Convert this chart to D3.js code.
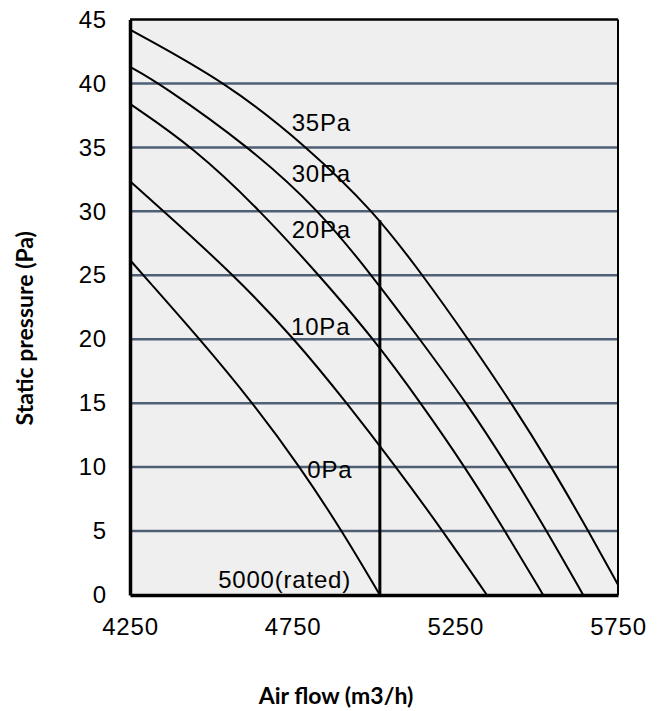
<!DOCTYPE html>
<html>
<head>
<meta charset="utf-8">
<script src="https://cdn.jsdelivr.net/npm/d3@7/dist/d3.min.js"></script>
<style>
  html, body { margin: 0; padding: 0; background: #ffffff; }
  svg { display: block; }
</style>
</head>
<body>
<svg id="chart" width="659" height="711"></svg>
<script>
// ---- Data ----
const xTicks = [4250, 4750, 5250, 5750];
const yTicks = [0, 5, 10, 15, 20, 25, 30, 35, 40, 45];

// Fan curves: [air flow (m3/h), static pressure (Pa)]
const curve35 = [[4250, 44.2], [4552, 40], [4796, 35], [5000, 30], [5150, 25], [5290, 20], [5423, 15], [5546, 10], [5659, 5], [5750, 0.8]];
const curve30 = [[4250, 41.3], [4342, 40], [4619, 35], [4834, 30], [4993, 25], [5141, 20], [5285, 15], [5413, 10], [5531, 5], [5643, 0]];
const curve20 = [[4250, 38.4], [4445, 35], [4653, 30], [4831, 25], [5000, 20], [5144, 15], [5280, 10], [5403, 5], [5520, 0]];
const curve10 = [[4250, 32.35], [4354, 30], [4570, 25], [4757, 20], [4917, 15], [5068, 10], [5212, 5], [5347, 0]];
const curve0  = [[4250, 26.2], [4291, 25], [4465, 20], [4628, 15], [4773, 10], [4902, 5], [5018, 0]];
const curves = [curve35, curve30, curve20, curve10, curve0];

// Rated flow marker: flow position, from pressure, to pressure
const ratedFlow = 5018;
const ratedRange = [0, 29.3];

// Curve labels: text, anchor flow, anchor pressure (data coordinates)
const labelTexts = ["35Pa", "30Pa", "20Pa", "10Pa", "0Pa", "5000(rated)"];
const labelFlows = [4747, 4747, 4747, 4745, 4795, 4521];
const labelPressures = [36.3, 32.3, 27.95, 20.3, 9.15, 0.55];

const xTitle = "Air flow (m3/h)";
const yTitle = "Static pressure (Pa)";

// ---- Layout ----
const svg = d3.select("#chart");
const pLeft = 130, pRight = 618, pTop = 19.5, pBottom = 595;

const x = d3.scaleLinear().domain([4250, 5750]).range([pLeft, pRight]);
const y = d3.scaleLinear().domain([0, 45]).range([pBottom, pTop]);

// Plot background
svg.append("rect")
  .attr("x", pLeft).attr("y", pTop)
  .attr("width", pRight - pLeft).attr("height", pBottom - pTop)
  .attr("fill", "#efefef");

// Gridlines
svg.append("g").selectAll("line")
  .data(yTicks.filter(d => d > 0 && d < 45))
  .join("line")
  .attr("x1", pLeft).attr("x2", pRight)
  .attr("y1", d => y(d)).attr("y2", d => y(d))
  .attr("stroke", "#4f5f76")
  .attr("stroke-width", 2.5);

// Curves (smoothed through the read points)
const line = d3.line()
  .x(d => x(d[0])).y(d => y(d[1]))
  .curve(d3.curveBasis);

svg.append("g").selectAll("path")
  .data(curves)
  .join("path")
  .attr("d", line)
  .attr("fill", "none")
  .attr("stroke", "#000")
  .attr("stroke-width", 2);

// Rated line
svg.append("line")
  .attr("x1", x(ratedFlow)).attr("x2", x(ratedFlow))
  .attr("y1", y(ratedRange[0])).attr("y2", y(ratedRange[1]))
  .attr("stroke", "#000").attr("stroke-width", 3);

// Frame: top & right thin, left & bottom thick
svg.append("line").attr("x1", pLeft).attr("x2", pRight).attr("y1", pTop).attr("y2", pTop)
  .attr("stroke", "#000").attr("stroke-width", 2.5);
svg.append("line").attr("x1", pRight).attr("x2", pRight).attr("y1", pTop).attr("y2", pBottom)
  .attr("stroke", "#000").attr("stroke-width", 2);

// Axes
const fontFam = "'Liberation Sans', Arial, sans-serif";
const yAxis = svg.append("g")
  .attr("transform", `translate(${pLeft},0)`)
  .call(d3.axisLeft(y).tickValues(yTicks).tickSize(0).tickPadding(23).tickFormat(d3.format("d")));
const xAxis = svg.append("g")
  .attr("transform", `translate(0,${pBottom})`)
  .call(d3.axisBottom(x).tickValues(xTicks).tickSize(0).tickPadding(23).tickFormat(d3.format("d")));

[yAxis, xAxis].forEach(g => {
  g.select(".domain").attr("stroke", "#000").attr("stroke-width", 3.5);
  g.selectAll("text")
    .attr("font-family", fontFam)
    .attr("font-size", 24)
    .attr("letter-spacing", "0.8px")
    .attr("fill", "#000");
});

// Curve labels
svg.append("g").selectAll("text")
  .data(labelTexts)
  .join("text")
  .attr("x", (d, i) => x(labelFlows[i]))
  .attr("y", (d, i) => y(labelPressures[i]))
  .attr("font-family", fontFam)
  .attr("font-size", 24)
  .attr("letter-spacing", "0.8px")
  .attr("fill", "#000")
  .text(d => d);

// Axis titles
svg.append("text")
  .attr("transform", `translate(33,${(pTop + pBottom) / 2 + 21}) rotate(-90)`)
  .attr("text-anchor", "middle")
  .attr("font-family", "Lato, 'Open Sans', sans-serif")
  .attr("font-weight", "bold")
  .attr("font-size", 23)
  .text(yTitle);

svg.append("text")
  .attr("x", 336)
  .attr("y", 704)
  .attr("text-anchor", "middle")
  .attr("font-family", "Lato, 'Open Sans', sans-serif")
  .attr("font-weight", "bold")
  .attr("font-size", 23)
  .text(xTitle);
</script>
</body>
</html>
